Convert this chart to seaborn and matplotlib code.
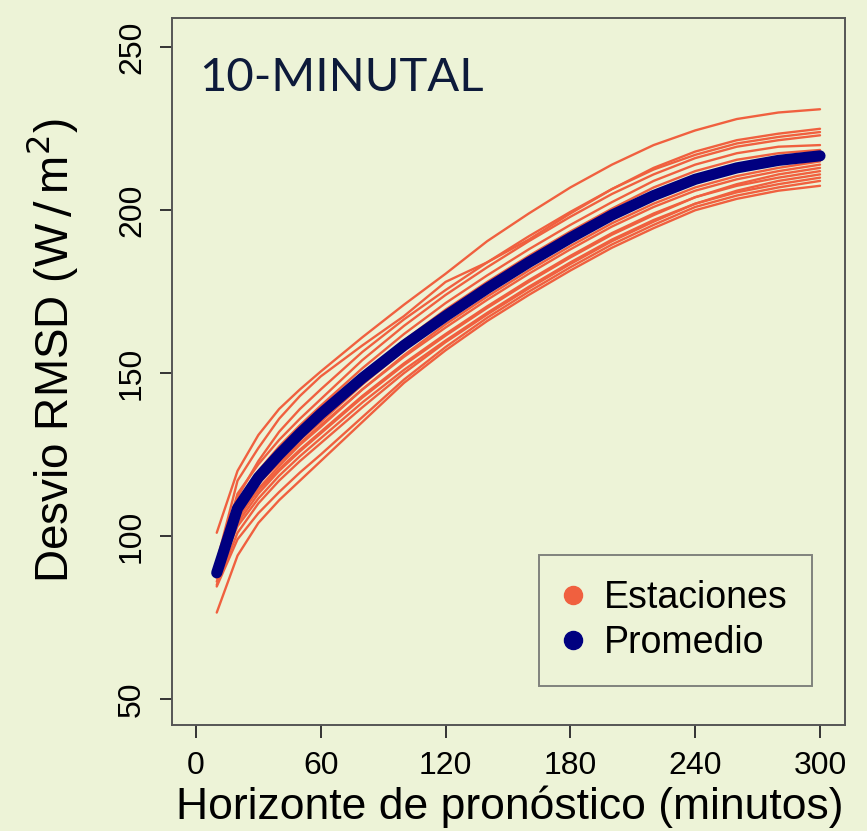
import numpy as np
import pandas as pd
import matplotlib
matplotlib.use("Agg")
import matplotlib.pyplot as plt
from matplotlib.lines import Line2D
import seaborn as sns

# Forecast horizons (minutes)
horizonte = [10, 20, 30, 40, 50, 60, 80, 100, 120, 140, 160, 180, 200, 220, 240, 260, 280, 300]

# RMSD per station (W/m2)
est_a = [101, 120, 131, 139, 145, 150.5, 161, 171, 180.5, 190.5, 199, 207, 214, 220, 224.5, 228, 230, 231]
est_b = [92, 117, 127, 136, 143, 149, 158.5, 167.5, 178, 184, 191, 199, 206.5, 213, 218, 221.5, 223.5, 225]
est_c = [90, 112, 123, 132, 139, 145, 156.5, 166.5, 175.5, 184, 192, 199.5, 206.5, 212.5, 217, 220.5, 222.5, 224]
est_d = [91, 113, 122, 129.5, 136, 142, 154, 164.5, 174, 182.5, 190.5, 198, 205, 211, 216, 219.5, 221.5, 223]
est_e = [90, 110, 120, 127.5, 134, 140, 151.5, 162, 171.5, 180, 188, 195.5, 202.5, 209, 214, 217.5, 219.5, 220]
est_f = [89, 109, 119, 126, 132, 138, 149.5, 160, 169.5, 178, 186, 193.5, 200.5, 207, 212, 215.5, 217.5, 218.5]
est_g = [88, 107, 116.5, 123.5, 129.5, 135, 146.5, 157, 166.5, 175, 183, 190.5, 197.5, 204, 209, 212.5, 215, 217]
est_h = [87, 105, 114.5, 121.5, 128, 133.5, 145, 155.5, 165, 173.5, 181.5, 189, 196, 202, 207, 210.5, 213, 215]
est_i = [91, 107, 116, 122.5, 128.5, 134, 145, 155, 164, 172.5, 180.5, 188, 195, 201, 206, 209.5, 212, 214]
est_j = [86, 104, 113, 120, 126, 131.5, 142.5, 152.5, 161.5, 170, 178, 185.5, 192.5, 198.5, 204, 208, 211, 213]
est_k = [89, 106, 114, 120.5, 126.5, 132, 143, 153, 162, 170.5, 178.5, 186, 193, 199, 204, 207.5, 210, 212]
est_l = [85, 101, 110, 117, 123, 128.5, 139.5, 150, 159.5, 168, 176, 183.5, 190.5, 196.5, 202, 206, 209, 211]
est_m = [88, 103, 111.5, 118.5, 124.5, 130, 141, 151, 160, 168.5, 176.5, 184, 191, 197, 202, 205.5, 208, 210]
est_n = [84.5, 99, 107, 113.5, 119.5, 125, 136.5, 148, 158, 167, 175, 182.5, 189.5, 195.5, 201, 204.5, 207, 209]
est_o = [76.5, 94, 104, 111, 117, 123, 135, 147, 157, 166, 174, 181.5, 188.5, 194.5, 200, 203.5, 206, 207.5]

# Mean over all stations
promedio = [88.7, 108.5, 118, 125, 131.5, 137.5, 148.5, 158.5, 167.5, 176, 184, 191.5, 198.5, 204.5, 209.5, 213, 215.3, 216.7]

estaciones = {
    "A": est_a, "B": est_b, "C": est_c, "D": est_d, "E": est_e,
    "F": est_f, "G": est_g, "H": est_h, "I": est_i, "J": est_j,
    "K": est_k, "L": est_l, "M": est_m, "N": est_n, "O": est_o,
}

x_ticks = [0, 60, 120, 180, 240, 300]
y_ticks = [50, 100, 150, 200, 250]

BG = "#EDF3D7"
ROJO = "#F0603F"
AZUL = "#000080"

sns.set_theme(style="ticks")
plt.rcParams["font.family"] = ["Liberation Sans", "DejaVu Sans"]
plt.rcParams["text.color"] = "black"
plt.rcParams["axes.labelcolor"] = "black"
plt.rcParams["xtick.color"] = "black"
plt.rcParams["ytick.color"] = "black"
plt.rcParams["xtick.labelcolor"] = "black"
plt.rcParams["ytick.labelcolor"] = "black"

df_est = pd.DataFrame(
    [(k, h, v) for k, vals in estaciones.items() for h, v in zip(horizonte, vals)],
    columns=["estacion", "horizonte", "rmsd"],
)
df_prom = pd.DataFrame({"horizonte": horizonte, "rmsd": promedio})

fig = plt.figure(figsize=(8.67, 8.31), dpi=100, facecolor=BG)
ax = fig.add_axes([0.1984, 0.1276, 0.7762, 0.8507])
ax.set_facecolor(BG)

sns.lineplot(
    data=df_est, x="horizonte", y="rmsd", hue="estacion",
    palette=[ROJO] * len(estaciones), linewidth=1.7, legend=False,
    ax=ax, estimator=None, sort=True,
)
sns.lineplot(
    data=df_prom, x="horizonte", y="rmsd", color=AZUL, linewidth=8,
    legend=False, ax=ax, estimator=None,
    solid_capstyle="round", solid_joinstyle="round",
)

ax.set_xlim(-11.5, 312)
ax.set_ylim(42, 259)
ax.set_xticks(x_ticks)
ax.set_yticks(y_ticks)
ax.set_xticklabels([str(t) for t in x_ticks], fontsize=23)
ax.set_yticklabels([str(t) for t in y_ticks], fontsize=23, rotation=90, va="center")
ax.tick_params(axis="both", direction="out", length=9, width=1.4, color="#333333", pad=9)
ax.tick_params(axis="x", pad=10)

for s in ax.spines.values():
    s.set_color("#555555")
    s.set_linewidth(1.4)

ax.set_xlabel("Horizonte de pronóstico (minutos)", fontsize=32)
ax.xaxis.set_label_coords(0.502, -0.086)
ax.set_ylabel("Desvio RMSD (W$\\,/\\,$m$^2$)", fontsize=33)
ax.yaxis.set_label_coords(-0.137, 0.53)

ax.text(0.04, 0.945, "10-MINUTAL", transform=ax.transAxes, fontsize=34,
        family=["Lato", "DejaVu Sans"], color="#0D1A3A", ha="left", va="top")

handles = [
    Line2D([], [], marker="o", linestyle="none", markersize=13, color=ROJO, label="Estaciones"),
    Line2D([], [], marker="o", linestyle="none", markersize=13, color=AZUL, label="Promedio"),
]
leg = ax.legend(handles=handles, loc="lower right", bbox_to_anchor=(0.951, 0.055),
                borderaxespad=0, fontsize=27, frameon=True, fancybox=False,
                handletextpad=0.6, borderpad=0.66, labelspacing=0.25, handlelength=0.45)
leg.get_frame().set_facecolor(BG)
leg.get_frame().set_edgecolor("#666666")
leg.get_frame().set_linewidth(1.4)

fig.savefig("out.png", dpi=100, facecolor=BG)
